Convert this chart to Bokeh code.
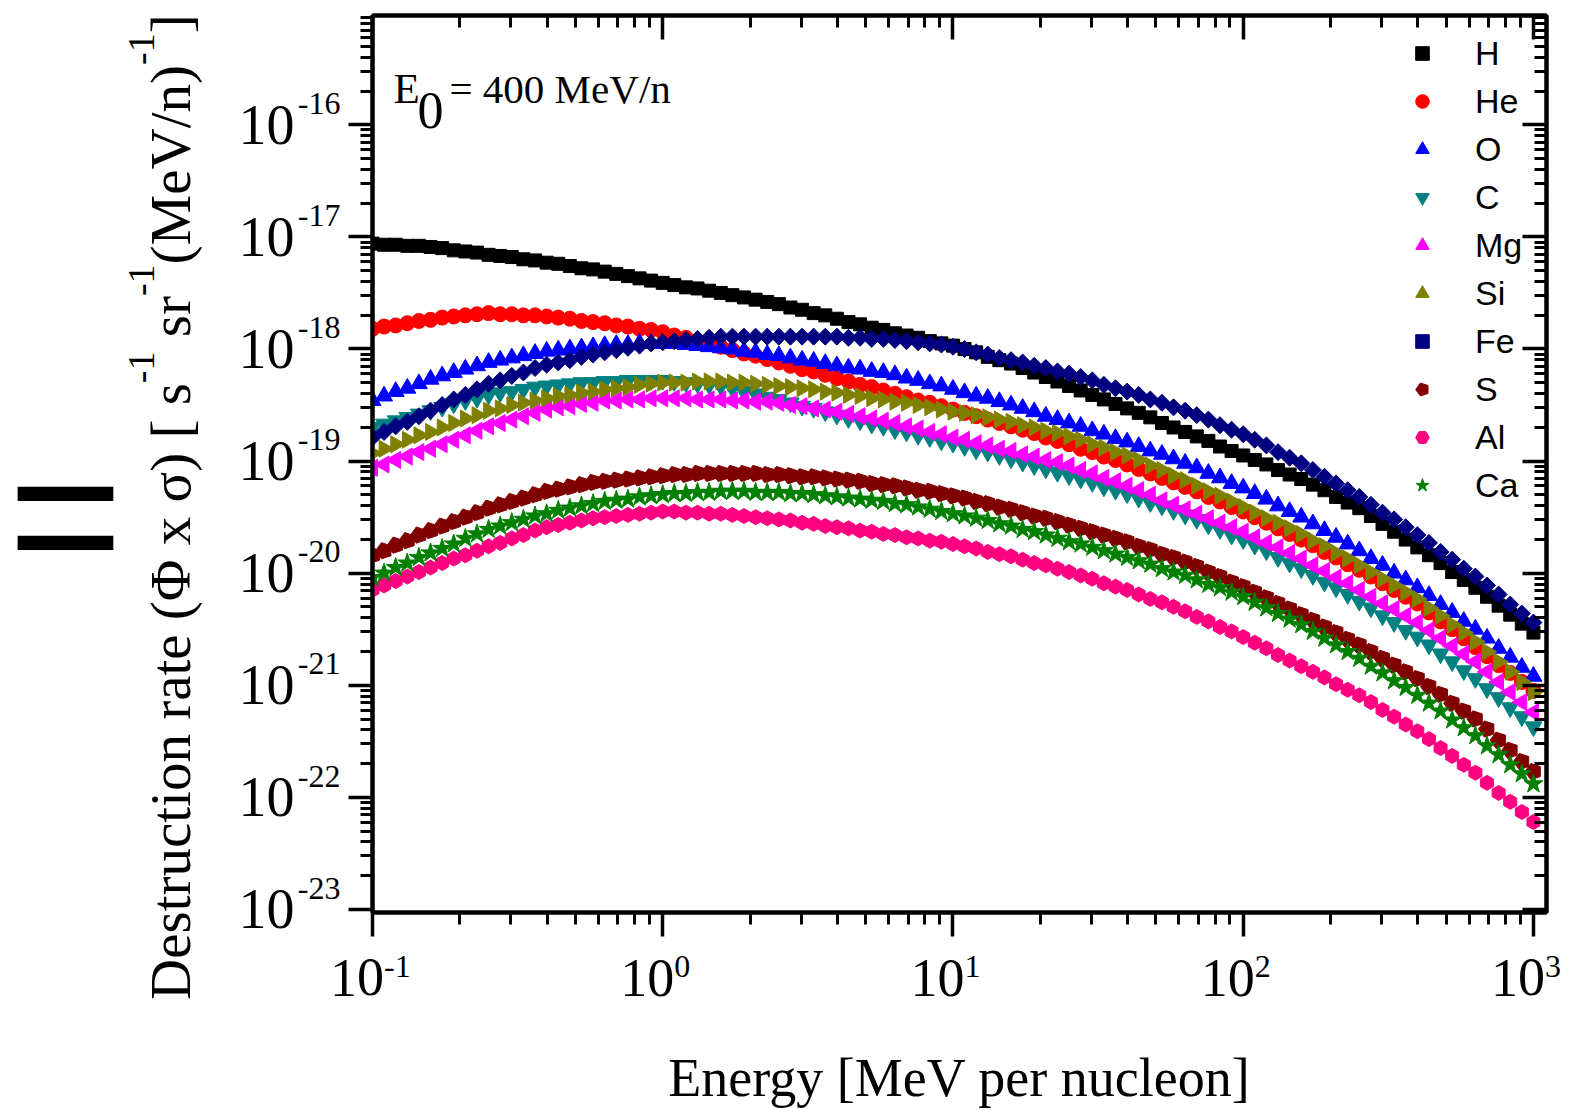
import numpy as np
from bokeh.plotting import figure
from bokeh.layouts import row
from bokeh.models import (Range1d, LogAxis, FixedTicker, Label, Legend, LegendItem,
                          ColumnDataSource, Ngon, CustomJSTickFormatter, Div)
from bokeh.embed import file_html
from bokeh.resources import INLINE

# Energy grid: 25 logarithmic steps per decade, 0.1 ... 1000 MeV/n
MANTISSA = [1.000, 1.096, 1.202, 1.318, 1.445, 1.585, 1.738, 1.905, 2.089, 2.291,
            2.512, 2.754, 3.020, 3.311, 3.631, 3.981, 4.365, 4.786, 5.248, 5.754,
            6.310, 6.918, 7.586, 8.318, 9.120]
DECADES = [0.1, 1.0, 10.0, 100.0]
energy = np.array([m * d for d in DECADES for m in MANTISSA] + [1000.0])

# log10 of the destruction rate, one value per energy point
H = [-17.06, -17.07, -17.07, -17.08, -17.08, -17.09, -17.10, -17.12, -17.13, -17.14,
     -17.16, -17.17, -17.18, -17.20, -17.21, -17.23, -17.24, -17.26, -17.28, -17.29,
     -17.31, -17.33, -17.35, -17.37, -17.39, -17.41, -17.43, -17.45, -17.46, -17.48,
     -17.50, -17.52, -17.54, -17.56, -17.58, -17.60, -17.63, -17.65, -17.68, -17.70,
     -17.73, -17.76, -17.78, -17.81, -17.83, -17.86, -17.88, -17.90, -17.93, -17.95,
     -17.97, -18.00, -18.03, -18.07, -18.10, -18.13, -18.17, -18.21, -18.25, -18.29,
     -18.33, -18.37, -18.41, -18.45, -18.49, -18.53, -18.57, -18.61, -18.66, -18.70,
     -18.74, -18.78, -18.82, -18.87, -18.91, -18.95, -18.99, -19.03, -19.08, -19.12,
     -19.16, -19.21, -19.26, -19.32, -19.37, -19.42, -19.49, -19.56, -19.63, -19.70,
     -19.77, -19.84, -19.91, -19.99, -20.06, -20.13, -20.21, -20.29, -20.37, -20.45,
     -20.53]
He = [-17.82, -17.80, -17.79, -17.77, -17.75, -17.74, -17.72, -17.71, -17.70, -17.69,
      -17.68, -17.69, -17.69, -17.70, -17.70, -17.71, -17.72, -17.73, -17.75, -17.76,
      -17.77, -17.79, -17.80, -17.82, -17.83, -17.85, -17.88, -17.90, -17.93, -17.95,
      -17.98, -18.01, -18.04, -18.06, -18.09, -18.12, -18.15, -18.18, -18.20, -18.23,
      -18.26, -18.29, -18.32, -18.34, -18.37, -18.40, -18.43, -18.46, -18.48, -18.51,
      -18.54, -18.57, -18.60, -18.63, -18.66, -18.69, -18.72, -18.75, -18.79, -18.82,
      -18.85, -18.89, -18.92, -18.96, -18.99, -19.03, -19.07, -19.11, -19.15, -19.19,
      -19.23, -19.27, -19.32, -19.36, -19.41, -19.45, -19.50, -19.55, -19.60, -19.65,
      -19.70, -19.75, -19.81, -19.86, -19.92, -19.97, -20.03, -20.09, -20.15, -20.21,
      -20.27, -20.35, -20.43, -20.50, -20.58, -20.66, -20.74, -20.82, -20.89, -20.97,
      -21.05]
O = [-18.46, -18.42, -18.38, -18.35, -18.31, -18.27, -18.24, -18.21, -18.18, -18.15,
     -18.12, -18.10, -18.08, -18.06, -18.04, -18.02, -18.01, -18.00, -17.99, -17.98,
     -17.97, -17.96, -17.96, -17.95, -17.95, -17.95, -17.95, -17.96, -17.97, -17.98,
     -17.99, -18.00, -18.02, -18.03, -18.05, -18.06, -18.08, -18.10, -18.11, -18.13,
     -18.15, -18.17, -18.18, -18.20, -18.21, -18.23, -18.26, -18.28, -18.31, -18.33,
     -18.36, -18.39, -18.42, -18.44, -18.47, -18.50, -18.53, -18.56, -18.60, -18.63,
     -18.66, -18.69, -18.73, -18.76, -18.80, -18.83, -18.87, -18.91, -18.94, -18.98,
     -19.02, -19.06, -19.11, -19.15, -19.20, -19.24, -19.29, -19.34, -19.40, -19.45,
     -19.50, -19.56, -19.62, -19.68, -19.74, -19.80, -19.87, -19.93, -20.00, -20.06,
     -20.13, -20.20, -20.28, -20.35, -20.43, -20.50, -20.58, -20.67, -20.75, -20.84,
     -20.92]
C = [-18.70, -18.67, -18.64, -18.61, -18.58, -18.55, -18.52, -18.49, -18.46, -18.44,
     -18.41, -18.39, -18.38, -18.36, -18.34, -18.33, -18.32, -18.31, -18.30, -18.30,
     -18.29, -18.29, -18.28, -18.28, -18.28, -18.28, -18.29, -18.30, -18.31, -18.32,
     -18.33, -18.35, -18.38, -18.40, -18.43, -18.45, -18.48, -18.51, -18.53, -18.56,
     -18.59, -18.62, -18.64, -18.67, -18.69, -18.72, -18.74, -18.77, -18.79, -18.82,
     -18.84, -18.87, -18.90, -18.92, -18.95, -18.98, -19.01, -19.04, -19.07, -19.10,
     -19.13, -19.16, -19.19, -19.23, -19.26, -19.29, -19.33, -19.37, -19.40, -19.44,
     -19.48, -19.52, -19.57, -19.61, -19.66, -19.70, -19.75, -19.80, -19.86, -19.91,
     -19.96, -20.02, -20.08, -20.13, -20.19, -20.25, -20.31, -20.38, -20.44, -20.51,
     -20.57, -20.64, -20.72, -20.79, -20.87, -20.94, -21.03, -21.11, -21.20, -21.28,
     -21.37]
Mg = [-19.06, -19.03, -18.99, -18.96, -18.92, -18.89, -18.85, -18.81, -18.77, -18.73,
      -18.69, -18.66, -18.63, -18.60, -18.57, -18.54, -18.52, -18.51, -18.49, -18.48,
      -18.46, -18.46, -18.45, -18.45, -18.44, -18.44, -18.44, -18.44, -18.45, -18.45,
      -18.45, -18.46, -18.46, -18.47, -18.47, -18.48, -18.50, -18.51, -18.53, -18.54,
      -18.56, -18.58, -18.60, -18.62, -18.64, -18.66, -18.69, -18.71, -18.74, -18.76,
      -18.79, -18.81, -18.84, -18.86, -18.89, -18.91, -18.94, -18.96, -18.99, -19.01,
      -19.04, -19.08, -19.11, -19.15, -19.18, -19.22, -19.26, -19.30, -19.35, -19.39,
      -19.43, -19.47, -19.51, -19.55, -19.59, -19.63, -19.68, -19.73, -19.77, -19.82,
      -19.87, -19.93, -19.98, -20.04, -20.09, -20.15, -20.21, -20.27, -20.32, -20.38,
      -20.44, -20.51, -20.58, -20.65, -20.72, -20.79, -20.88, -20.97, -21.06, -21.15,
      -21.24]
Si = [-18.93, -18.89, -18.85, -18.81, -18.77, -18.74, -18.70, -18.66, -18.62, -18.59,
      -18.55, -18.53, -18.50, -18.48, -18.46, -18.44, -18.42, -18.41, -18.39, -18.38,
      -18.36, -18.35, -18.34, -18.32, -18.31, -18.30, -18.30, -18.30, -18.29, -18.29,
      -18.29, -18.30, -18.30, -18.31, -18.32, -18.33, -18.34, -18.35, -18.36, -18.38,
      -18.39, -18.41, -18.42, -18.44, -18.45, -18.47, -18.48, -18.50, -18.52, -18.54,
      -18.56, -18.57, -18.59, -18.61, -18.63, -18.65, -18.68, -18.70, -18.73, -18.75,
      -18.78, -18.81, -18.85, -18.88, -18.92, -18.95, -18.99, -19.04, -19.08, -19.13,
      -19.17, -19.22, -19.27, -19.31, -19.36, -19.41, -19.46, -19.51, -19.55, -19.60,
      -19.65, -19.71, -19.76, -19.82, -19.87, -19.93, -19.99, -20.05, -20.11, -20.17,
      -20.23, -20.31, -20.38, -20.46, -20.53, -20.61, -20.70, -20.79, -20.88, -20.97,
      -21.06]
Fe = [-18.79, -18.74, -18.69, -18.65, -18.60, -18.55, -18.50, -18.45, -18.41, -18.36,
      -18.31, -18.28, -18.24, -18.21, -18.17, -18.14, -18.12, -18.10, -18.07, -18.05,
      -18.03, -18.01, -17.99, -17.97, -17.95, -17.94, -17.93, -17.92, -17.91, -17.90,
      -17.89, -17.89, -17.89, -17.89, -17.89, -17.89, -17.89, -17.89, -17.89, -17.89,
      -17.89, -17.90, -17.90, -17.91, -17.91, -17.92, -17.93, -17.94, -17.95, -17.96,
      -17.98, -18.00, -18.03, -18.05, -18.08, -18.10, -18.12, -18.15, -18.17, -18.20,
      -18.22, -18.25, -18.28, -18.32, -18.35, -18.38, -18.41, -18.45, -18.48, -18.52,
      -18.55, -18.59, -18.63, -18.68, -18.72, -18.76, -18.81, -18.86, -18.92, -18.97,
      -19.02, -19.08, -19.14, -19.20, -19.26, -19.32, -19.39, -19.46, -19.52, -19.59,
      -19.66, -19.73, -19.81, -19.88, -19.96, -20.03, -20.11, -20.19, -20.28, -20.36,
      -20.44]
S = [-19.84, -19.80, -19.75, -19.71, -19.66, -19.62, -19.58, -19.54, -19.50, -19.46,
     -19.42, -19.39, -19.36, -19.33, -19.30, -19.27, -19.25, -19.23, -19.21, -19.19,
     -19.18, -19.17, -19.16, -19.15, -19.14, -19.13, -19.12, -19.12, -19.11, -19.11,
     -19.11, -19.11, -19.11, -19.11, -19.12, -19.12, -19.13, -19.14, -19.14, -19.15,
     -19.16, -19.17, -19.18, -19.20, -19.21, -19.22, -19.24, -19.26, -19.27, -19.29,
     -19.31, -19.33, -19.36, -19.38, -19.41, -19.43, -19.46, -19.49, -19.51, -19.54,
     -19.57, -19.60, -19.63, -19.66, -19.69, -19.72, -19.76, -19.79, -19.83, -19.86,
     -19.90, -19.94, -19.99, -20.03, -20.08, -20.12, -20.17, -20.22, -20.27, -20.32,
     -20.37, -20.42, -20.48, -20.53, -20.59, -20.64, -20.70, -20.76, -20.82, -20.88,
     -20.94, -21.01, -21.08, -21.16, -21.23, -21.30, -21.39, -21.49, -21.58, -21.68,
     -21.77]
Al = [-20.15, -20.11, -20.07, -20.03, -19.99, -19.95, -19.91, -19.87, -19.84, -19.80,
      -19.76, -19.73, -19.69, -19.66, -19.62, -19.59, -19.57, -19.55, -19.53, -19.51,
      -19.50, -19.49, -19.48, -19.47, -19.46, -19.45, -19.45, -19.46, -19.46, -19.47,
      -19.47, -19.48, -19.49, -19.50, -19.51, -19.52, -19.53, -19.55, -19.56, -19.58,
      -19.59, -19.60, -19.62, -19.63, -19.65, -19.66, -19.68, -19.69, -19.71, -19.72,
      -19.74, -19.76, -19.78, -19.81, -19.83, -19.85, -19.88, -19.91, -19.93, -19.96,
      -19.99, -20.02, -20.05, -20.09, -20.12, -20.15, -20.19, -20.23, -20.26, -20.30,
      -20.34, -20.39, -20.43, -20.48, -20.52, -20.57, -20.62, -20.67, -20.73, -20.78,
      -20.83, -20.88, -20.93, -20.99, -21.04, -21.09, -21.15, -21.22, -21.28, -21.35,
      -21.41, -21.48, -21.56, -21.63, -21.71, -21.78, -21.87, -21.96, -22.04, -22.13,
      -22.22]
Ca = [-20.04, -20.00, -19.95, -19.91, -19.86, -19.82, -19.78, -19.74, -19.69, -19.65,
      -19.61, -19.58, -19.55, -19.52, -19.49, -19.47, -19.44, -19.42, -19.40, -19.38,
      -19.36, -19.35, -19.34, -19.32, -19.31, -19.30, -19.29, -19.29, -19.28, -19.28,
      -19.27, -19.27, -19.27, -19.28, -19.28, -19.28, -19.29, -19.29, -19.30, -19.31,
      -19.32, -19.33, -19.34, -19.35, -19.36, -19.38, -19.39, -19.41, -19.43, -19.45,
      -19.47, -19.49, -19.51, -19.53, -19.56, -19.58, -19.61, -19.63, -19.66, -19.69,
      -19.72, -19.74, -19.77, -19.80, -19.83, -19.86, -19.89, -19.92, -19.96, -19.99,
      -20.02, -20.06, -20.10, -20.13, -20.17, -20.21, -20.26, -20.31, -20.36, -20.41,
      -20.46, -20.52, -20.58, -20.64, -20.70, -20.76, -20.83, -20.89, -20.96, -21.02,
      -21.09, -21.16, -21.23, -21.31, -21.38, -21.45, -21.54, -21.62, -21.71, -21.79,
      -21.88]

SPECIES = ["H", "He", "O", "C", "Mg", "Si", "Fe", "S", "Al", "Ca"]
LOG_RATES = [H, He, O, C, Mg, Si, Fe, S, Al, Ca]

X_TICKS = [0.1, 1.0, 10.0, 100.0, 1000.0]
Y_TICKS = [1e-16, 1e-17, 1e-18, 1e-19, 1e-20, 1e-21, 1e-22, 1e-23]

X_MIN, X_MAX = 0.1, 10 ** 3.045
Y_MIN, Y_MAX = 10 ** -23.027, 10 ** -15.025

SERIF = "Liberation Serif"
SANS = "Liberation Sans"

# marker style per species (shape, colour, size, rotation)
MARKERS = {
    "H":  ("square", "#000000", 13, 0.0),
    "He": ("circle", "#ff0000", 15, 0.0),
    "O":  ("triangle", "#0000ff", 17, 0.0),
    "C":  ("inverted_triangle", "#008080", 17, 0.0),
    "Mg": ("triangle", "#ff00ff", 17, np.pi / 2),
    "Si": ("triangle", "#808000", 17, -np.pi / 2),
    "Fe": ("square", "#000080", 12, np.pi / 4),
    "S":  ("pentagon", "#800000", 8.5, np.pi / 2),
    "Al": ("hex", "#ff0080", 15, np.pi / 2),
    "Ca": ("star", "#008000", 20, 0.0),
}

LEFT_PANEL = 235  # width of the block holding the rotated y title

p = figure(width=1574 - LEFT_PANEL, height=1110, x_axis_type="log",
           y_axis_type="log", x_range=Range1d(X_MIN, X_MAX),
           y_range=Range1d(Y_MIN, Y_MAX), output_backend="svg",
           toolbar_location=None, min_border_left=132, min_border_right=28,
           min_border_top=15, min_border_bottom=196)
p.background_fill_color = "white"
p.border_fill_color = "white"
p.outline_line_color = "black"
p.outline_line_width = 4
p.grid.visible = False

x_minor = [m * d for d in [0.1, 1.0, 10.0, 100.0, 1000.0] for m in range(2, 10)]
y_minor = [m * 10.0 ** k for k in range(-24, -15) for m in range(2, 10)]

BLANK = CustomJSTickFormatter(code="return ''")


def frame_axis(ax, outward, major, minor):
    """Axis carrying the tick marks only."""
    ax.ticker = FixedTicker(ticks=major, minor_ticks=minor)
    ax.formatter = BLANK
    ax.axis_line_width = 4
    ax.axis_line_color = "black"
    ax.major_tick_line_color = "black"
    ax.minor_tick_line_color = "black"
    ax.major_tick_line_width = 3.5
    ax.minor_tick_line_width = 3
    if outward:
        ax.major_tick_out, ax.major_tick_in = 24, 0
        ax.minor_tick_out, ax.minor_tick_in = 12, 0
    else:
        ax.major_tick_out, ax.major_tick_in = 0, 24
        ax.minor_tick_out, ax.minor_tick_in = 0, 12
    ax.major_label_text_font_size = "1px"
    ax.major_label_standoff = 0


def label_axis(ax, ticks, code, shift, size, standoff, orientation="horizontal"):
    """Axis carrying tick labels only (no line, no tick marks)."""
    ax.ticker = FixedTicker(ticks=ticks, minor_ticks=[])
    ax.formatter = CustomJSTickFormatter(args=dict(shift=shift), code=code)
    ax.axis_line_color = None
    ax.major_tick_line_color = None
    ax.minor_tick_line_color = None
    ax.major_tick_out = ax.major_tick_in = 0
    ax.minor_tick_out = ax.minor_tick_in = 0
    ax.major_label_text_font = SERIF
    ax.major_label_text_font_size = size
    ax.major_label_text_color = "black"
    ax.major_label_standoff = standoff
    ax.major_label_orientation = orientation


EXPONENT = "return String(Math.round(Math.log10(tick) - shift))"
TEN = "return '10'"

frame_axis(p.xaxis[0], True, X_TICKS, x_minor)
frame_axis(p.yaxis[0], True, Y_TICKS, y_minor)
top_axis = LogAxis()
right_axis = LogAxis()
frame_axis(top_axis, False, X_TICKS, x_minor)
frame_axis(right_axis, False, Y_TICKS, y_minor)
p.add_layout(top_axis, "above")
p.add_layout(right_axis, "right")

# y tick labels: raised exponent next to the axis, "10" further out
Y_SUP_SHIFT = 0.19
y_sup = LogAxis()
label_axis(y_sup, [t * 10 ** Y_SUP_SHIFT for t in Y_TICKS], EXPONENT, Y_SUP_SHIFT,
           "32px", 8)
y_ten = LogAxis()
label_axis(y_ten, Y_TICKS, TEN, 0.0, "56px", 0)
p.add_layout(y_sup, "left")
p.add_layout(y_ten, "left")

# x tick labels: exponent row, then "10" row, then the axis title
X_SHIFT = 0.04
x_sup = LogAxis()
label_axis(x_sup, [t * 10 ** X_SHIFT for t in X_TICKS], EXPONENT, X_SHIFT,
           "32px", 30, orientation=-1e-6)
x_ten = LogAxis()
label_axis(x_ten, [t * 10 ** X_SHIFT for t in X_TICKS], TEN, X_SHIFT,
           "54px", -13, orientation=1e-6)
x_ten.axis_label = "Energy [MeV per nucleon]"
x_ten.axis_label_text_font = SERIF
x_ten.axis_label_text_font_size = "54px"
x_ten.axis_label_text_font_style = "normal"
x_ten.axis_label_text_color = "black"
x_ten.axis_label_standoff = 31
p.add_layout(x_sup, "below")
p.add_layout(x_ten, "below")

items = []
for name, logs in zip(SPECIES, LOG_RATES):
    shape, color, size, angle = MARKERS[name]
    src = ColumnDataSource(dict(x=energy, y=10.0 ** np.array(logs)))
    if shape == "pentagon":
        glyph = Ngon(x="x", y="y", radius=size, radius_units="screen", n=5,
                     angle=angle, fill_color=color, line_color=color)
        r = p.add_glyph(src, glyph)
    else:
        r = p.scatter("x", "y", source=src, marker=shape, size=size, angle=angle,
                      fill_color=color, line_color=color, line_width=1)
    items.append(LegendItem(label=name, renderers=[r]))

legend = Legend(items=items, location="top_right", padding=0, margin=18,
                spacing=8, glyph_width=34, glyph_height=40, label_height=40,
                label_width=53, label_standoff=36, label_text_font=SANS,
                label_text_font_size="34px", label_text_color="black",
                border_line_color=None, background_fill_alpha=0)
p.add_layout(legend)

# beam energy annotation inside the frame
p.add_layout(Label(x=21, y=824, x_units="screen", y_units="screen", text="E",
                   text_align="left", text_baseline="alphabetic",
                   text_font=SERIF, text_font_size="43px", text_color="black"))
p.add_layout(Label(x=45, y=802, x_units="screen", y_units="screen", text="0",
                   text_align="left", text_baseline="alphabetic",
                   text_font=SERIF, text_font_size="52px", text_color="black"))
p.add_layout(Label(x=77, y=824, x_units="screen", y_units="screen",
                   text="= 400 MeV/n", text_align="left",
                   text_baseline="alphabetic", text_font=SERIF,
                   text_font_size="41px", text_color="black"))

# rotated y title with real superscripts, plus the equals sign at the far left
sup = "font-size:38px;position:relative;top:-36px;vertical-align:baseline;"
title_html = (
    '<div style="position:relative;width:235px;height:1110px;">'
    '<div style="position:absolute;left:8px;top:417px;font-family:\'Liberation Sans\';'
    'font-size:197px;line-height:1;color:black;">=</div>'
    '<div style="position:absolute;left:142px;top:1000px;transform:rotate(-90deg);'
    'transform-origin:0 0;white-space:nowrap;font-family:\'Liberation Serif\';'
    'font-size:57px;line-height:1;color:black;">'
    'Destruction rate (&Phi; x &sigma;) [ s<span style="' + sup + '">-1</span>'
    ' sr<span style="' + sup + '">-1</span>(MeV/n)<span style="' + sup + '">-1</span>]'
    '</div></div>'
)
title_block = Div(text=title_html, width=LEFT_PANEL, height=1110, margin=0)

layout = row(title_block, p)
open("out.html", "w").write(file_html(layout, INLINE))
